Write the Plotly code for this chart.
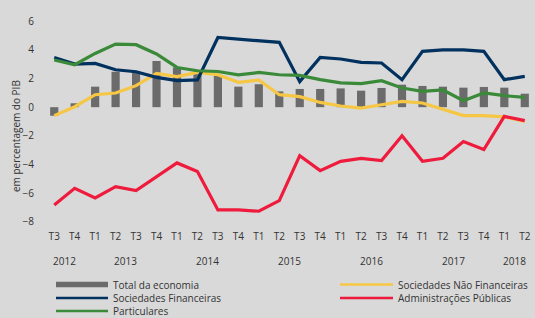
import plotly.graph_objects as go

quarters = ["T3", "T4", "T1", "T2", "T3", "T4", "T1", "T2", "T3", "T4", "T1", "T2",
            "T3", "T4", "T1", "T2", "T3", "T4", "T1", "T2", "T3", "T4", "T1", "T2"]
years = ["2012", "2012", "2013", "2013", "2013", "2013", "2014", "2014", "2014", "2014",
         "2015", "2015", "2015", "2015", "2016", "2016", "2016", "2016", "2017", "2017",
         "2017", "2017", "2018", "2018"]

total_economia = [-0.6, 0.27, 1.43, 2.47, 2.45, 3.22, 2.77, 2.5, 2.2, 1.43, 1.6, 1.1,
                  1.27, 1.27, 1.31, 1.15, 1.34, 1.57, 1.48, 1.43, 1.36, 1.41, 1.36, 0.94]
soc_nao_financeiras = [-0.59, 0.03, 0.87, 0.99, 1.5, 2.36, 2.13, 2.43, 2.26, 1.73, 1.9, 0.87,
                       0.73, 0.33, 0.08, -0.06, 0.17, 0.4, 0.29, -0.13, -0.59, -0.59, -0.68, -0.99]
soc_financeiras = [3.47, 3.01, 3.05, 2.61, 2.47, 2.08, 1.85, 1.9, 4.86, 4.75, 4.63, 4.52,
                   1.78, 3.47, 3.36, 3.12, 3.08, 1.92, 3.89, 4.0, 4.0, 3.89, 1.92, 2.15]
particulares = [3.29, 2.96, 3.75, 4.4, 4.36, 3.71, 2.77, 2.54, 2.49, 2.26, 2.42, 2.26,
                2.22, 1.92, 1.69, 1.64, 1.85, 1.34, 1.1, 1.2, 0.45, 0.99, 0.8, 0.68]
admin_publicas = [-6.82, -5.66, -6.33, -5.54, -5.82, -4.84, -3.89, -4.49, -7.17, -7.17, -7.26, -6.52,
                  -3.38, -4.43, -3.78, -3.57, -3.73, -1.99, -3.78, -3.57, -2.4, -2.96, -0.64, -0.94]

y_ticks = [-8, -6, -4, -2, 0, 2, 4, 6]
y_title = "em percentagem do PIB"

names = ["Total da economia", "Sociedades Não Financeiras", "Sociedades Financeiras",
         "Administrações Públicas", "Particulares"]
colors = {"Total da economia": "#6b6b6b",
          "Sociedades Não Financeiras": "#f6c744",
          "Sociedades Financeiras": "#00315f",
          "Administrações Públicas": "#ee1b3d",
          "Particulares": "#3a8a3a"}

W, H = 535, 318
ML, MR, MT, MB = 44, 0, 14, 89
FONT = "Open Sans"
TXT = "#333333"
BG = "#d9d9d9"

x = list(range(len(quarters)))

fig = go.Figure()
fig.add_trace(go.Bar(x=x, y=total_economia, width=0.4, marker_color=colors["Total da economia"],
                     marker_line_width=0, name="Total da economia", showlegend=False))
for nm, vals in [("Sociedades Não Financeiras", soc_nao_financeiras),
                 ("Sociedades Financeiras", soc_financeiras),
                 ("Particulares", particulares),
                 ("Administrações Públicas", admin_publicas)]:
    fig.add_trace(go.Scatter(x=x, y=vals, mode="lines", name=nm, showlegend=False,
                             line=dict(color=colors[nm], width=3.2)))

pw = W - ML - MR
ph = H - MT - MB


def px_x(p):
    return (p - ML) / pw


def px_y(p):
    return (H - MB - p) / ph


annotations = []
shapes = []

# year labels centred under their quarters
seen = []
for yv in years:
    if yv not in seen:
        seen.append(yv)
for yv in seen:
    idx = [i for i, v in enumerate(years) if v == yv]
    annotations.append(dict(x=sum(idx) / len(idx), y=px_y(261), xref="x", yref="paper",
                            text=yv, showarrow=False, xanchor="center", yanchor="middle",
                            font=dict(family=FONT, size=10, color=TXT)))

# y axis title
annotations.append(dict(x=px_x(16), y=px_y(136), xref="paper", yref="paper", text=y_title,
                        textangle=-90, showarrow=False, xanchor="center", yanchor="middle",
                        font=dict(family=FONT, size=10, color=TXT)))

# manual legend
legend_pos = {
    "Total da economia": (56, 108, 284.5),
    "Sociedades Não Financeiras": (340, 393, 284.5),
    "Sociedades Financeiras": (56, 108, 298),
    "Administrações Públicas": (340, 393, 298),
    "Particulares": (56, 108, 311),
}
for nm in names:
    x0, x1, yc = legend_pos[nm]
    if nm == "Total da economia":
        shapes.append(dict(type="rect", xref="paper", yref="paper",
                           x0=px_x(x0), x1=px_x(x1), y0=px_y(yc + 2.7), y1=px_y(yc - 2.7),
                           fillcolor=colors[nm], line_width=0))
    else:
        shapes.append(dict(type="line", xref="paper", yref="paper",
                           x0=px_x(x0), x1=px_x(x1), y0=px_y(yc), y1=px_y(yc),
                           line=dict(color=colors[nm], width=2.6)))
    annotations.append(dict(x=px_x(x1 + 3), y=px_y(yc), xref="paper", yref="paper", text=nm,
                            showarrow=False, xanchor="left", yanchor="middle",
                            font=dict(family=FONT, size=10, color=TXT)))

fig.update_layout(
    width=W, height=H,
    margin=dict(l=ML, r=MR, t=MT, b=MB, pad=0),
    paper_bgcolor=BG, plot_bgcolor=BG,
    showlegend=False,
    annotations=annotations,
    shapes=shapes,
    font=dict(family=FONT, size=10, color=TXT),
    xaxis=dict(range=[-0.5, len(quarters) - 0.5], tickmode="array", tickvals=x,
               ticktext=quarters, showgrid=False, zeroline=False, showline=False,
               ticks="", automargin=False,
               tickfont=dict(family=FONT, size=10, color=TXT)),
    yaxis=dict(range=[-8.5, 6.5], tickmode="array", tickvals=y_ticks,
               showgrid=False, zeroline=False, showline=False,
               ticks="outside", ticklen=7, tickcolor=BG, automargin=False,
               tickfont=dict(family=FONT, size=10, color=TXT)),
)

fig.write_html(
    "out.html",
    config={"displayModeBar": False},
    post_script="document.body.style.margin='0';document.body.style.padding='0';"
                "document.body.style.overflow='hidden';"
                "document.body.style.background='" + BG + "';",
)
